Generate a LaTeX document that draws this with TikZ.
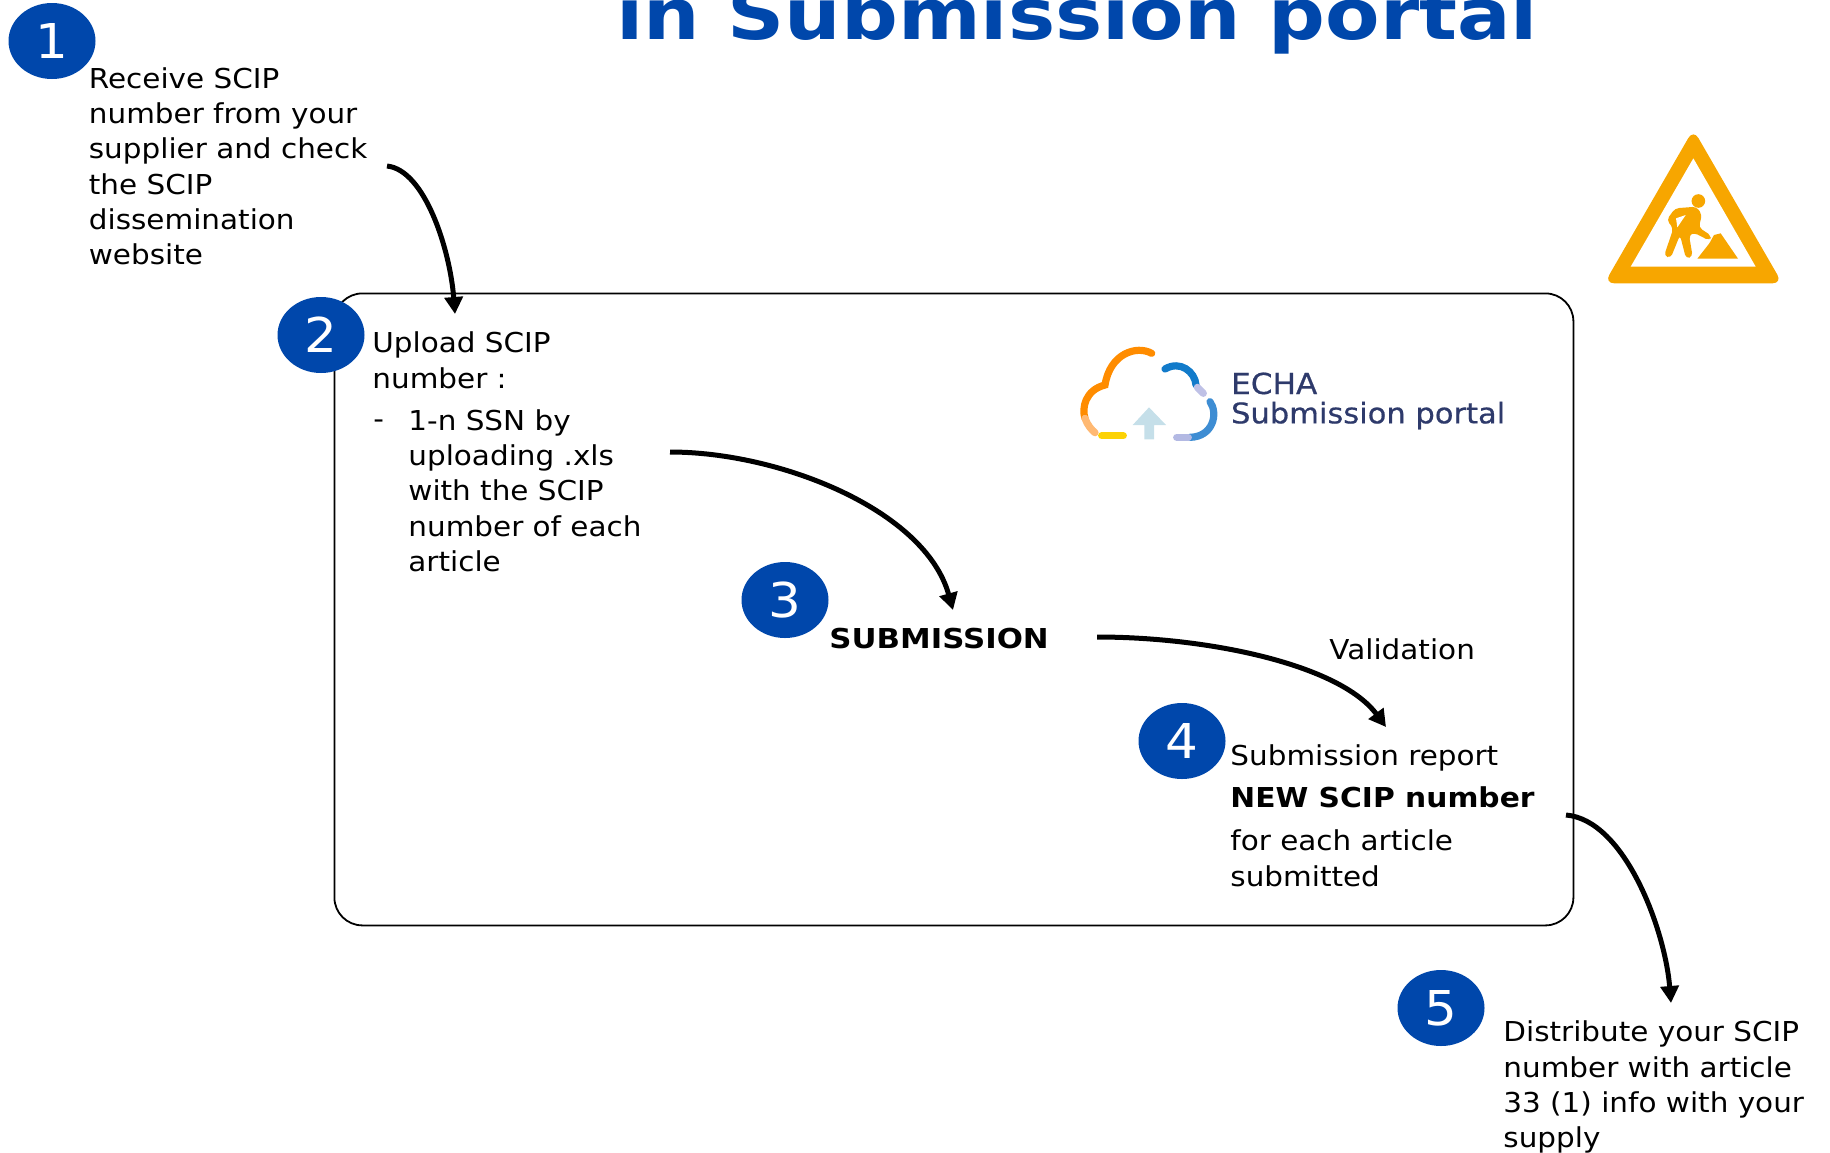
\documentclass[tikz,border=0pt]{standalone}
\usepackage{fontspec}
\setmainfont[FakeStretch=1.075,BoldFeatures={FakeStretch=1.125}]{DejaVu Sans}
\newfontfamily\newscipfont[BoldFeatures={FakeStretch=1.085}]{DejaVu Sans}
\usetikzlibrary{arrows.meta,shapes.geometric}
\definecolor{echablue}{HTML}{0047AB}
\definecolor{signor}{HTML}{F7A600}
\definecolor{lognavy}{HTML}{2E3A6B}
\tikzset{
  x=0.5pt,y=-0.5pt,
  numdot/.style={ellipse,fill=echablue,text=white,minimum width=43.5pt,minimum height=38pt,inner sep=0pt,font=\fontsize{24}{24}\selectfont},
  body/.style={anchor=north west,inner sep=0pt,align=left,text=black,font=\fontsize{13.7}{17.65}\selectfont},
  bodyb/.style={body,font=\fontsize{13.7}{17.65}\selectfont\bfseries},
  flow/.style={line width=2.5pt,-{Triangle[length=8.5pt,width=9pt]}},
  logo/.style={line width=3.6pt,line cap=round},
}
\begin{document}
\begin{tikzpicture}
\useasboundingbox (0,0) rectangle (1830,1152);
\clip (0,0) rectangle (1830,1152);
% title
\node[anchor=base,inner sep=0pt,text=echablue,font=\fontsize{35.3}{36}\selectfont\bfseries] (title) at (1077,39.5) {in Submission portal};
% frame
\node[draw=black,line width=0.9pt,rounded corners=14pt,minimum width=619.5pt,minimum height=316pt,inner sep=0pt,anchor=north west] (frame) at (333.5,292.5) {};
% number dots
\node[numdot] (n1) at (52,41) {1};
\node[numdot] (n2) at (321,335) {2};
\node[numdot] (n3) at (785,600) {3};
\node[numdot] (n4) at (1182,741) {4};
\node[numdot] (n5) at (1441,1008) {5};
% texts
\node[body] (t1) at (88.5,67) {Receive SCIP\\number from your\\supplier and check\\the SCIP\\dissemination\\website};
\node[body] (t2) at (372,331.5) {Upload SCIP\\number :};
\node[body,anchor=base west] (t2a) at (373,428) {-};
\node[body] (t2b) at (408,409) {1-n SSN by\\uploading .xls\\with the SCIP\\number of each\\article};
\node[bodyb] (t3) at (829,627.5) {SUBMISSION};
\node[body] (tv) at (1329,638.5) {Validation};
\node[body] (t4a) at (1230,744.5) {Submission report};
\node[bodyb,font=\fontsize{13.7}{17.65}\selectfont\newscipfont\bfseries] (t4b) at (1230,786.5) {NEW SCIP number};
\node[body] (t4c) at (1230,829.5) {for each article\\submitted};
\node[body] (t5) at (1503,1020.5) {Distribute your SCIP\\number with article\\33 (1) info with your\\supply};
% connectors
\coordinate (a1s) at (387,166); \coordinate (a1e) at (455,314);
\coordinate (a2s) at (670,452); \coordinate (a2e) at (953,610);
\coordinate (a3s) at (1097,637); \coordinate (a3e) at (1386,727);
\coordinate (a4s) at (1566,815); \coordinate (a4e) at (1671,1003);
\draw[flow] (a1s) .. controls (425,170) and (450,250) .. (a1e);
\draw[flow] (a2s) .. controls (780,452) and (925,510) .. (a2e);
\draw[flow] (a3s) .. controls (1210,637) and (1340,665) .. (a3e);
\draw[flow] (a4s) .. controls (1625,820) and (1665,930) .. (a4e);
% logo
\begin{scope}[shift={(1040,330)},x=0.16667pt,y=-0.16667pt]
\draw[logo,draw=orange!90!yellow] (335,70) .. controls (290,45) and (210,70) .. (195,165) .. controls (135,180) and (125,235) .. (135,265);
\draw[logo,draw=orange!55] (135,265) .. controls (142,285) and (155,300) .. (165,308);
\draw[logo,draw=yellow!70!orange] (185,317) -- (250,317);
\draw[logo,draw=cyan!60!blue] (375,117) .. controls (420,90) and (465,125) .. (468,165);
\draw[logo,draw=cyan!25!blue!25] (472,172) -- (490,190);
\draw[logo,draw=cyan!60!blue!80] (510,215) .. controls (535,250) and (520,320) .. (450,322);
\draw[logo,draw=cyan!30!blue!30] (445,322) -- (410,322);
\fill[fill=black!35!cyan!25!white] (327,232) -- (378,285) -- (342,285) -- (342,328) -- (313,328) -- (313,285) -- (278,285) -- cycle;
\node[anchor=base west,inner sep=0pt,text=lognavy,font=\fontsize{14.5}{14.5}\selectfont\addfontfeature{FakeBold=0.6}] (logo1) at (572,192) {ECHA};
\node[anchor=base west,inner sep=0pt,text=lognavy,font=\fontsize{14.2}{14.2}\selectfont\addfontfeature{FakeBold=0.6}] (logo2) at (572,280) {Submission portal};
\end{scope}
% sign
\begin{scope}[shift={(1590,120)},x=0.16667pt,y=-0.16667pt]
\fill[signor,rounded corners=5pt] (310,28) -- (577,490) -- (43,490) -- cycle;
\fill[white] (310,115) -- (497,440) -- (122,440) -- cycle;
\fill[signor] (325,243) circle[radius=3.4pt];
\fill[signor,rounded corners=2pt] (230,300) -- (255,265) -- (320,260) -- (336,285) -- (326,322) -- (365,348) -- (358,362) -- (312,338) -- (297,345) -- (308,410) -- (288,416) -- (270,345) -- (242,414) -- (222,408) -- (250,325) -- cycle;
\fill[white] (258,295) -- (287,285) -- (262,322) -- cycle;
\fill[signor] (322,416) -- (358,370) -- (372,345) -- (392,340) -- (444,416) -- cycle;
\end{scope}
\end{tikzpicture}
\end{document}
